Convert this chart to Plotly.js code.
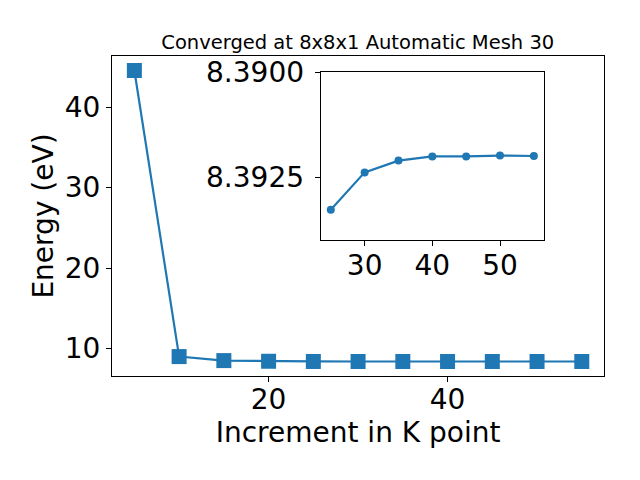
<!DOCTYPE html>
<html>
<head>
<meta charset="utf-8">
<script src="https://cdn.plot.ly/plotly-3.0.1.min.js"></script>
<style>html,body{margin:0;padding:0;background:#fff;}#chart{width:640px;height:480px;}</style>
</head>
<body>
<div id="chart"></div>
<script>
// Main curve: K-point increment vs energy
const kPoints = [5, 10, 15, 20, 25, 30, 35, 40, 45, 50, 55];
const energy = [44.54, 9.0, 8.5, 8.42, 8.3933, 8.3924, 8.3921, 8.3920, 8.3920, 8.3920, 8.3920];
// Inset: zoom on converged region
const insetK = [25, 30, 35, 40, 45, 50, 55];
const insetEnergy = [8.39328, 8.39239, 8.39211, 8.39201, 8.39201, 8.39199, 8.39200];

const titleText = 'Converged at 8x8x1 Automatic Mesh 30';
const xLabel = 'Increment in K point';
const yLabel = 'Energy (eV)';

const blue = '#1f77b4';
const font = 'DejaVu Sans, sans-serif';

const traces = [
  {x: kPoints, y: energy, type: 'scatter', mode: 'lines+markers',
   line: {color: blue, width: 2.2}, marker: {symbol: 'square', size: 15, color: blue},
   xaxis: 'x', yaxis: 'y', showlegend: false, hoverinfo: 'skip'},
  {x: insetK, y: insetEnergy, type: 'scatter', mode: 'lines+markers',
   line: {color: blue, width: 2.2}, marker: {symbol: 'circle', size: 8, color: blue},
   xaxis: 'x2', yaxis: 'y2', showlegend: false, hoverinfo: 'skip'}
];

const axCommon = {
  showline: true, linecolor: '#000', linewidth: 1, mirror: true,
  ticks: 'outside', ticklen: 5, tickwidth: 1, tickcolor: '#000',
  showgrid: false, zeroline: false,
  tickfont: {family: font, size: 28, color: '#000'}
};

const layout = {
  width: 640, height: 480,
  margin: {l: 0, r: 0, t: 0, b: 0},
  paper_bgcolor: '#fff', plot_bgcolor: '#fff',
  font: {family: font, color: '#000'},
  title: {text: titleText, font: {family: font, size: 19.5, color: '#000'},
          x: 0.559, xanchor: 'center', y: 0.9125, yanchor: 'middle', xref: 'paper', yref: 'paper'},
  xaxis: Object.assign({}, axCommon, {
    domain: [0.175, 0.944], range: [2.5, 57.5], dtick: 20, tick0: 0, anchor: 'y',
    ticklabelstandoff: -7,
    title: {text: xLabel, font: {family: font, size: 28, color: '#000'}, standoff: 3}
  }),
  yaxis: Object.assign({}, axCommon, {
    domain: [0.2167, 0.8833], range: [6.59, 46.34], dtick: 10, tick0: 0, anchor: 'x',
    title: {text: yLabel, font: {family: font, size: 28, color: '#000'}, standoff: 2}
  }),
  xaxis2: Object.assign({}, axCommon, {
    domain: [0.501, 0.85], range: [23.5, 56.5], dtick: 10, tick0: 0, anchor: 'y2',
    ticklabelstandoff: -5
  }),
  yaxis2: Object.assign({}, axCommon, {
    domain: [0.5, 0.85], range: [8.394, 8.390], dtick: 0.0025, tick0: 8.39,
    tickformat: '.4f', anchor: 'x2', ticklabelstandoff: 5
  })
};

Plotly.newPlot('chart', traces, layout, {staticPlot: true, displayModeBar: false});
</script>
</body>
</html>
